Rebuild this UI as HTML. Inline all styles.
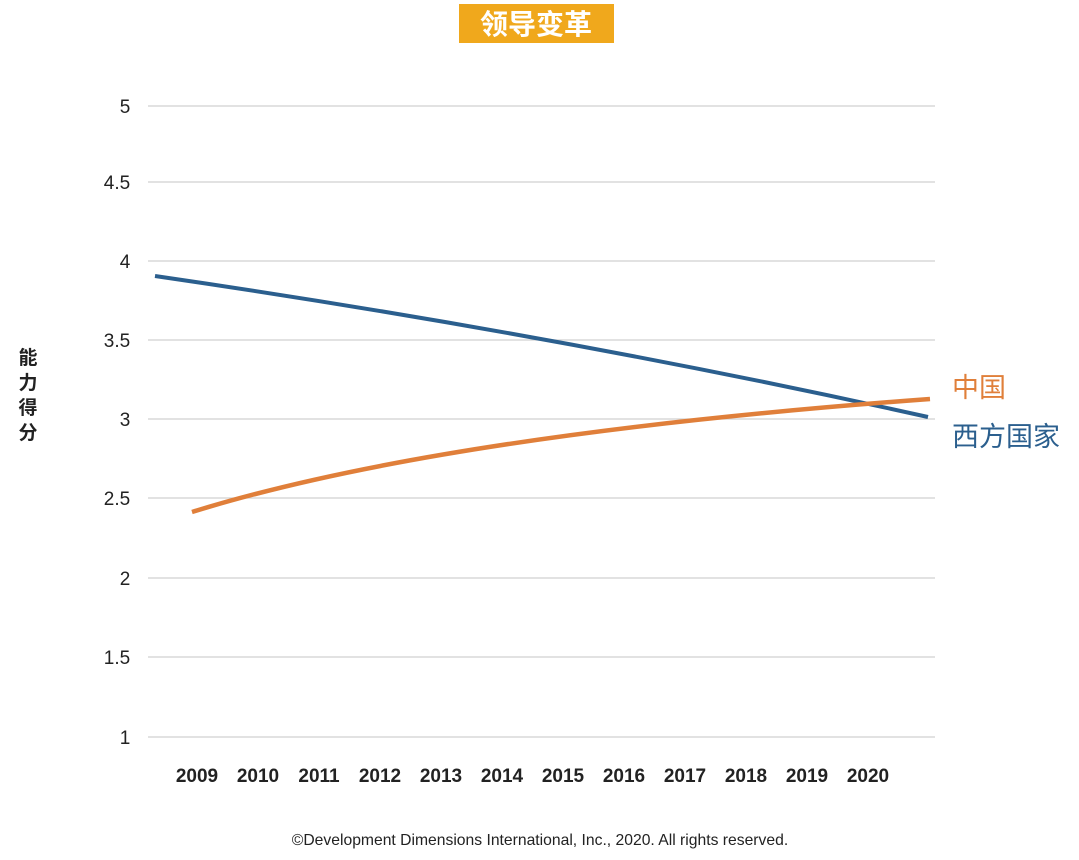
<!DOCTYPE html>
<html><head><meta charset="utf-8"><style>
body{margin:0;background:#fff;}
svg{display:block;}
text{font-family:"Liberation Sans","Noto Sans CJK SC",sans-serif;}
</style></head><body>
<svg width="1079" height="860" xmlns="http://www.w3.org/2000/svg">
<rect x="459" y="4" width="155" height="39" fill="#f0a81c"/>
<text x="536" y="34" text-anchor="middle" font-size="28" font-weight="bold" fill="#fff" style="font-family:'Noto Sans CJK SC',sans-serif">领导变革</text>
<g stroke="#d0d0d0" stroke-width="1.3">
<line x1="148" x2="935" y1="106" y2="106"/><line x1="148" x2="935" y1="182" y2="182"/>
<line x1="148" x2="935" y1="261" y2="261"/><line x1="148" x2="935" y1="340" y2="340"/>
<line x1="148" x2="935" y1="419" y2="419"/><line x1="148" x2="935" y1="498" y2="498"/>
<line x1="148" x2="935" y1="578" y2="578"/><line x1="148" x2="935" y1="657" y2="657"/>
<line x1="148" x2="935" y1="737" y2="737"/>
</g>
<g font-size="19" fill="#222" text-anchor="middle">
<text x="125" y="113">5</text><text x="117" y="189">4.5</text><text x="125" y="268">4</text>
<text x="117" y="347">3.5</text><text x="125" y="426">3</text><text x="117" y="505">2.5</text>
<text x="125" y="585">2</text><text x="117" y="664">1.5</text><text x="125" y="744">1</text>
</g>
<g font-size="19" fill="#222" text-anchor="middle" font-weight="600">
<text x="197" y="782">2009</text><text x="258" y="782">2010</text><text x="319" y="782">2011</text>
<text x="380" y="782">2012</text><text x="441" y="782">2013</text><text x="502" y="782">2014</text>
<text x="563" y="782">2015</text><text x="624" y="782">2016</text><text x="685" y="782">2017</text>
<text x="746" y="782">2018</text><text x="807" y="782">2019</text><text x="868" y="782">2020</text>
</g>
<g font-size="19" fill="#222" text-anchor="middle" font-weight="bold" style="font-family:'Noto Sans CJK SC',sans-serif">
<text x="28" y="364">能</text><text x="28" y="389">力</text><text x="28" y="414">得</text><text x="28" y="439">分</text>
</g>
<path d="M155,276 Q560,335 928,417" fill="none" stroke="#2b5f8e" stroke-width="4"/>
<path d="M192,512 Q440,435 930,399" fill="none" stroke="#e07f3a" stroke-width="4.5"/>
<text x="952" y="397" font-size="27" fill="#e07f3a" style="font-family:'Noto Sans CJK SC',sans-serif">中国</text>
<text x="952" y="446" font-size="27" fill="#2b5f8e" style="font-family:'Noto Sans CJK SC',sans-serif">西方国家</text>
<text x="540" y="845" font-size="15.7" fill="#222" text-anchor="middle">©Development Dimensions International, Inc., 2020. All rights reserved.</text>
</svg>
</body></html>
